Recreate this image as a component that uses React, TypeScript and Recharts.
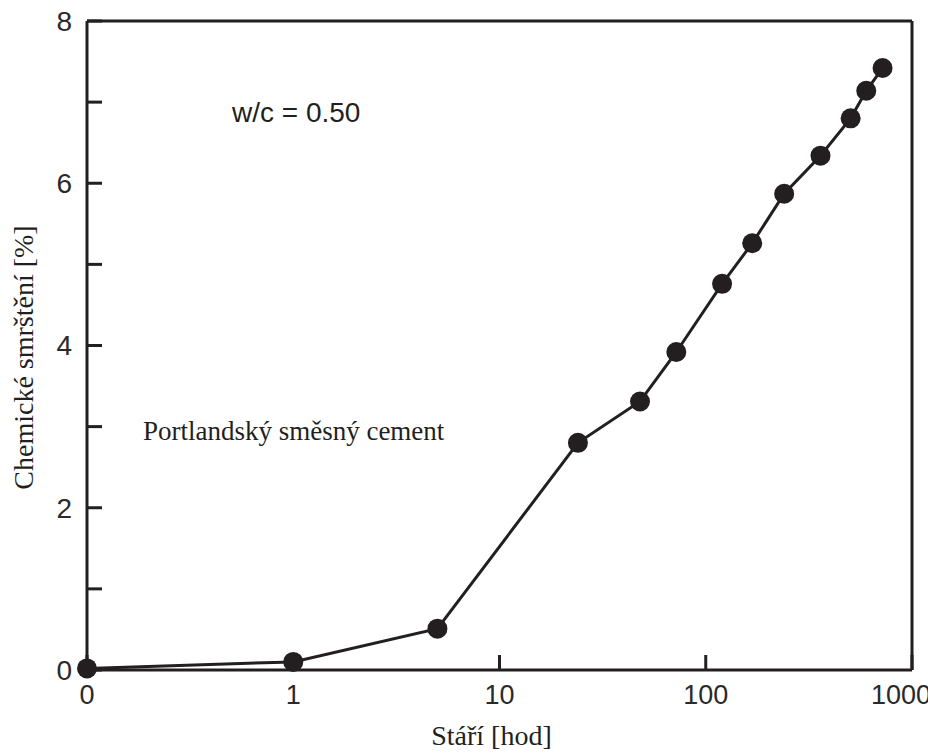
import React from 'react';
import {
  LineChart,
  Line,
  XAxis,
  YAxis,
  ReferenceDot,
  ReferenceLine,
} from 'recharts';

// age in hours and chemical shrinkage in %
const hours = [0, 1, 5, 24, 48, 72, 120, 168, 240, 360, 504, 600, 720];
const shrinkage = [0.02, 0.1, 0.51, 2.8, 3.31, 3.92, 4.76, 5.26, 5.87, 6.34, 6.8, 7.14, 7.42];

const xTicks = [-1, 0, 1, 2, 3];
const xTickLabels = ['0', '1', '10', '100', '1000'];
const yTicks = [0, 1, 2, 3, 4, 5, 6, 7, 8];

const INK = '#231f20';
const SANS = 'Liberation Sans, Arial, sans-serif';
const SERIF = 'Liberation Serif, Times New Roman, serif';

// "0" hours is drawn one decade left of 1 h
const data = hours.map((h, i) => ({
  logAge: h === 0 ? -1 : Math.log10(h),
  value: shrinkage[i],
}));

const XTick = ({ x, y, payload }: any) => {
  const i = xTicks.indexOf(payload.value);
  // last label is pulled in so it stays on the page
  const shift = i === xTicks.length - 1 ? -11 : 0;
  return (
    <text
      x={x + shift}
      y={y}
      dy="0.71em"
      textAnchor="middle"
      fill="#2a2a2a"
      fontSize={27}
      fontFamily={SANS}
    >
      {xTickLabels[i] ?? ''}
    </text>
  );
};

const XTitle = ({ viewBox }: any) => (
  <text
    x={viewBox.x + viewBox.width / 2 - 8}
    y={viewBox.y + viewBox.height - 8}
    textAnchor="middle"
    fill={INK}
    fontSize={28}
    fontFamily={SERIF}
  >
    Stáří [hod]
  </text>
);

const YTitle = ({ viewBox }: any) => {
  const x = viewBox.x + 25;
  const y = viewBox.y + viewBox.height / 2 + 12;
  return (
    <text
      x={x}
      y={y}
      transform={`rotate(-90, ${x}, ${y})`}
      textAnchor="middle"
      fill={INK}
      fontSize={28}
      fontFamily={SERIF}
    >
      Chemické smrštění [%]
    </text>
  );
};

const note = (text: string, size: number, family: string) => ({ viewBox }: any) => (
  <text x={viewBox.x} y={viewBox.y} fill={INK} fontSize={size} fontFamily={family}>
    {text}
  </text>
);

const App = () => {
  return (
    <div style={{ width: 928, height: 753, marginTop: -8 }}>
      <LineChart
        width={928}
        height={753}
        data={data}
        margin={{ top: 21, right: 24, left: 0, bottom: 0 }}
      >
        <XAxis
          dataKey="logAge"
          type="number"
          domain={[-1, 3]}
          ticks={xTicks}
          height={83}
          stroke={INK}
          strokeWidth={3}
          tickSize={-15}
          tickMargin={30}
          tick={<XTick />}
          label={<XTitle />}
        />
        <YAxis
          type="number"
          domain={[0, 8]}
          ticks={yTicks}
          tickFormatter={(v: number) => (v % 2 === 0 ? String(v) : '')}
          width={79}
          stroke={INK}
          strokeWidth={3}
          tickSize={-15}
          tickMargin={30}
          tick={{ fill: '#2a2a2a', fontSize: 28, fontFamily: SANS }}
          label={<YTitle />}
        />
        <ReferenceLine y={8} stroke={INK} strokeWidth={3} />
        <ReferenceLine x={3} stroke={INK} strokeWidth={3} />
        <ReferenceDot
          x={-0.297}
          y={6.76}
          r={0}
          stroke="none"
          fill="none"
          label={note('w/c = 0.50', 28, SANS)}
        />
        <ReferenceDot
          x={-0.729}
          y={2.84}
          r={0}
          stroke="none"
          fill="none"
          label={note('Portlandský směsný cement', 27, SERIF)}
        />
        <Line
          type="linear"
          dataKey="value"
          stroke={INK}
          strokeWidth={3}
          dot={{ r: 10, fill: INK, stroke: INK, strokeWidth: 0 }}
          activeDot={false}
          isAnimationActive={false}
        />
      </LineChart>
    </div>
  );
};

export default App;
